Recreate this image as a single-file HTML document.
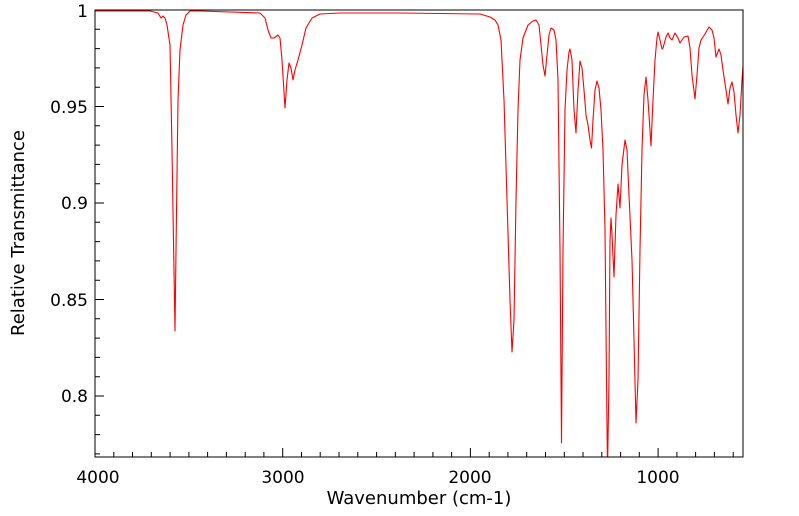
<!DOCTYPE html>
<html><head><meta charset="utf-8"><style>
html,body{margin:0;padding:0;background:#fff;}
svg{display:block;font-family:"DejaVu Sans","Liberation Sans",sans-serif;}
</style></head><body>
<svg width="799" height="516" viewBox="0 0 799 516" xmlns="http://www.w3.org/2000/svg">
<rect width="799" height="516" fill="#fff"/>
<defs><clipPath id="c"><rect x="95" y="10" width="648" height="447"/></clipPath></defs>
<path fill="none" stroke="#000" stroke-width="1" d="
M95,457v-9 M113.8,457v-5 M132.5,457v-5 M151.3,457v-5 M170.1,457v-5 M188.9,457v-5 M207.6,457v-5 M226.4,457v-5 M245.2,457v-5 M263.9,457v-5
M282.7,457v-9 M301.5,457v-5 M320.2,457v-5 M339,457v-5 M357.8,457v-5 M376.6,457v-5 M395.3,457v-5 M414.1,457v-5 M432.9,457v-5 M451.6,457v-5
M470.4,457v-9 M489.2,457v-5 M507.9,457v-5 M526.7,457v-5 M545.5,457v-5 M564.3,457v-5 M583,457v-5 M601.8,457v-5 M620.6,457v-5 M639.3,457v-5
M658.1,457v-9 M676.9,457v-5 M695.6,457v-5 M714.4,457v-5 M733.2,457v-5
M95,10h9 M95,29.3h5 M95,48.6h5 M95,67.9h5 M95,87.2h5 M95,106.5h9 M95,125.8h5 M95,145.1h5 M95,164.4h5 M95,183.7h5
M95,203h9 M95,222.3h5 M95,241.6h5 M95,260.9h5 M95,280.2h5 M95,299.5h9 M95,318.8h5 M95,338.1h5 M95,357.4h5 M95,376.7h5
M95,396h9 M95,415.3h5 M95,434.6h5 M95,453.9h5"/>
<path clip-path="url(#c)" fill="none" stroke="#ff0000" stroke-width="1.1" stroke-linejoin="round" d="M95,11 L120,11 L150,11 L158,13 L161,18 L163,16 L165,18 L167,25 L170,45 L172,150 L175,331 L176,250 L178,100 L180,50 L183,25 L186,15 L190,11 L200,11 L260,13 L265,18 L268,30 L271,38 L274,38 L278,35 L280,38 L282,60 L285,108 L287,80 L289,63 L291,68 L293,80 L295,70 L298,60 L302,45 L306,28 L312,18 L320,14 L340,13 L400,13 L480,14 L490,17 L495,20 L498,25 L501,40 L504,100 L507,200 L510,300 L512,352 L514,320 L516,200 L518,110 L520,60 L523,38 L528,25 L533,21 L536,20 L539,25 L541,45 L543,65 L545,76 L547,55 L549,35 L551,28 L554,30 L556,40 L558,80 L560,250 L561.5,443 L563,250 L565,110 L567,70 L569,52 L570,49 L572,60 L574,110 L576,133 L578,90 L580,61 L582,68 L584,90 L586,115 L588,125 L590,140 L591.5,148 L593,120 L595,90 L597,81 L599,88 L601,110 L603,150 L605,230 L606.5,380 L607.5,470 L609,380 L610,240 L611,218 L612,235 L614,277 L616,215 L618,184 L620,208 L622,165 L625,140 L627,150 L629,195 L632,260 L634,340 L636,423 L638,380 L640,250 L642,150 L644,95 L646,77 L648,100 L651,146 L653,100 L655,60 L657,38 L658,32 L660,40 L662,49 L663,48 L666,37 L668,33 L670,38 L672,40 L675,33 L678,38 L680,43 L684,37 L688,36 L690,48 L692,75 L695,99 L697,75 L699,48 L701,40 L705,34 L709,27 L712,30 L714,38 L716,57 L719,49 L721,55 L723,70 L726,90 L728,104 L730,88 L732,82 L734,92 L736,115 L738,133 L740,115 L742,80 L743,66"/>
<rect x="95" y="10" width="648" height="447" fill="none" stroke="#000" stroke-width="1"/>
<g font-size="17" fill="#000">
<text x="98" y="483" text-anchor="middle">4000</text>
<text x="283" y="483" text-anchor="middle">3000</text>
<text x="470" y="483" text-anchor="middle">2000</text>
<text x="658" y="483" text-anchor="middle">1000</text>
<text x="88" y="17" text-anchor="end">1</text>
<text x="88" y="113" text-anchor="end">0.95</text>
<text x="88" y="209" text-anchor="end">0.9</text>
<text x="88" y="306" text-anchor="end">0.85</text>
<text x="88" y="402" text-anchor="end">0.8</text>
<text x="419" y="504" text-anchor="middle" font-size="18">Wavenumber (cm-1)</text>
<text transform="translate(24,233) rotate(-90)" text-anchor="middle" font-size="18">Relative Transmittance</text>
</g>
</svg>
</body></html>
